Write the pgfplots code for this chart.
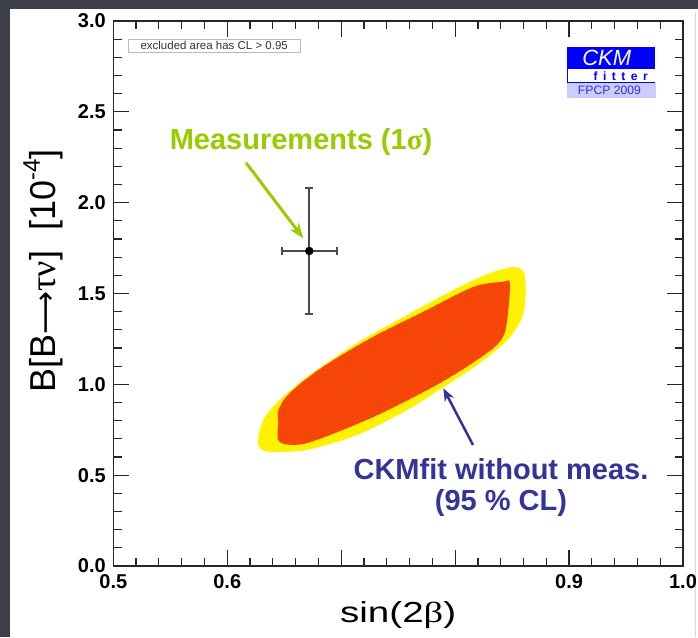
\documentclass[border=0pt]{standalone}
\usepackage{fontspec}
\setmainfont{Liberation Sans}
\newfontfamily\grk{Liberation Serif}
\newfontfamily\djv{DejaVu Sans}
\usepackage{pgfplots}
\pgfplotsset{compat=1.18}
\usetikzlibrary{patterns,arrows.meta}

\definecolor{slate}{RGB}{60,63,72}
\definecolor{mgreen}{RGB}{153,204,0}
\definecolor{fitblue}{RGB}{51,51,153}
\definecolor{ckmblue}{RGB}{0,0,255}
\definecolor{ckmpale}{RGB}{204,204,255}
\definecolor{fpcptext}{RGB}{51,51,204}
\definecolor{hatchorange}{RGB}{255,85,0}
\definecolor{hatchred}{RGB}{235,40,0}

\begin{document}
\begin{tikzpicture}[pix/.style={x=1pt,y=-1pt,shift={(0pt,637pt)}}]
% slide background
\begin{scope}[pix]
  \fill[slate] (0,0) rectangle (698,637);
  \fill[white] (10,9) rectangle (698,637);
  \draw[red!22, line width=0.8pt] (695.5,12) -- (695.5,637);
\end{scope}

\begin{axis}[
  at={(113.3pt,71pt)}, anchor=south west,
  scale only axis, width=569.7pt, height=545pt,
  xmin=0.5, xmax=1.0, ymin=0, ymax=3,
  xtick={0.5,0.6,0.7,0.8,0.9,1.0},
  xticklabels={0.5,0.6,,,0.9,1.0},
  ytick={0,0.5,1,1.5,2,2.5,3},
  yticklabels={0.0,0.5,1.0,1.5,2.0,2.5,3.0},
  minor x tick num=4, minor y tick num=4,
  tick align=inside, tick pos=both,
  xticklabel pos=lower, yticklabel pos=left,
  major tick length=16pt, minor tick length=8.5pt,
  axis line style={line width=1.3pt, black!85},
  tick style={line width=1.2pt, black!85},
  tick label style={font=\fontsize{20}{20}\selectfont\bfseries},
  xticklabel style={yshift=-5pt},
  yticklabel style={xshift=-4pt},
  xlabel={sin(2{\grk β})},
  xlabel style={at={(axis description cs:0.5,-0.1028)}, anchor=base,
    font=\fontsize{29}{29}\selectfont, xscale=1.33},
  ylabel={B[B{\djv\fontsize{30}{30}\selectfont ⟶}{\grk τν}]\ \ [10\raisebox{0.42em}{\fontsize{24}{24}\selectfont -4}]},
  ylabel style={at={(axis description cs:-0.1023,0.541)}, anchor=base,
    font=\fontsize{36}{36}\selectfont},
]
  % outer (yellow) region
  \addplot[draw=none, fill=yellow, smooth, tension=0.5] coordinates {
    (0.627,0.666) (0.6305,0.639) (0.640,0.628) (0.670,0.639) (0.714,0.721)
    (0.758,0.859) (0.793,0.997) (0.822,1.118) (0.846,1.245) (0.859,1.371)
    (0.862,1.520) (0.860,1.619) (0.851,1.646) (0.831,1.613) (0.802,1.531)
    (0.758,1.382) (0.714,1.228) (0.670,1.041) (0.646,0.914) (0.633,0.820)
    (0.628,0.732) (0.627,0.666)
  } -- cycle;
  % inner (hatched orange) region
  \addplot[draw=none, fill=hatchorange, smooth, tension=0.5,
    postaction={pattern=north east lines, pattern color=hatchred}] coordinates {
    (0.645,0.787) (0.646,0.683) (0.670,0.677) (0.728,0.820) (0.787,1.008)
    (0.828,1.173) (0.842,1.261) (0.846,1.371) (0.848,1.558) (0.842,1.564)
    (0.816,1.536) (0.772,1.399) (0.728,1.261) (0.684,1.096) (0.655,0.953)
    (0.645,0.859) (0.645,0.787)
  } -- cycle;
  % measurement with 1 sigma errors
  \addplot[only marks, mark=*, mark size=4pt, color=black,
    error bars/.cd, x dir=both, x explicit, y dir=both, y explicit,
    error bar style={line width=2pt, black!70},
    error mark options={black!70, line width=2pt, mark size=4pt, rotate=90}]
    coordinates {(0.672,1.734) +- (0.0241,0.349)};
\end{axis}

% annotations
\begin{scope}[pix]
  \draw[gray!55, fill=white, line width=0.8pt] (128.3,39.3) rectangle (300,52.3);
  \node[inner sep=0, text=black!80, font=\fontsize{11.5}{11.5}\selectfont] at (214.2,45.8) {excluded area has CL > 0.95};

  \fill[ckmblue] (567.3,47.3) rectangle (655,69.3);
  \node[inner sep=0, text=white, font=\fontsize{22}{22}\selectfont\itshape] at (606.7,58.2) {CKM};
  \draw[ckmblue, line width=1.3pt] (567.3,69.3) -- (567.3,82.7) -- (655,82.7);
  \node[inner sep=0, anchor=east, text=ckmblue, font=\fontsize{12}{12}\selectfont\bfseries] at (648,76)
    {f\hspace{5.5pt}i\hspace{5.5pt}t\hspace{5.5pt}t\hspace{5.5pt}e\hspace{5.5pt}r};
  \fill[ckmpale] (567.3,83.3) rectangle (656,98.3);
  \node[inner sep=0, text=fpcptext, font=\fontsize{12.2}{12.2}\selectfont] at (609.5,90.8) {FPCP 2009};

  \node[anchor=base, inner sep=0, text=mgreen, font=\fontsize{29}{29}\selectfont\bfseries] at (301,150)
    {Measurements (1{\grk σ})};
  \draw[mgreen, line width=3pt, -{Stealth[length=15pt, width=11pt]}] (246,162.7) -- (303.3,238.3);

  \node[anchor=base, inner sep=0, text=fitblue, font=\fontsize{29}{29}\selectfont\bfseries] at (501,480)
    {CKMfit without meas.};
  \node[anchor=base, inner sep=0, text=fitblue, font=\fontsize{29}{29}\selectfont\bfseries] at (501,511)
    {(95 \% CL)};
  \draw[fitblue, line width=2.5pt, -{Stealth[length=13pt, width=10pt]}] (473,445) -- (443.3,388.3);
\end{scope}

\pgfresetboundingbox
\path[use as bounding box] (0pt,0pt) rectangle (698pt,637pt);
\end{tikzpicture}
\end{document}
